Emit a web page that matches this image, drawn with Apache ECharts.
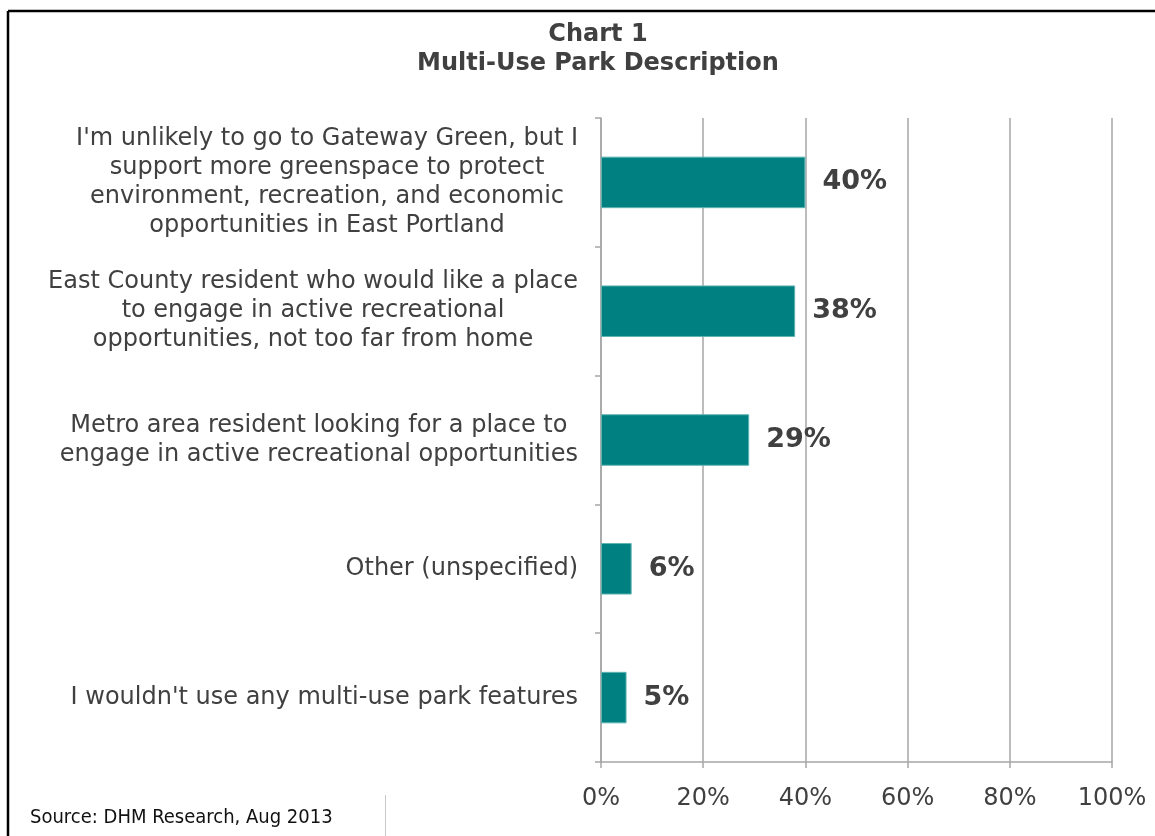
<!DOCTYPE html>
<html>
<head>
<meta charset="utf-8">
<script src="https://cdn.jsdelivr.net/npm/echarts@6/dist/echarts.min.js"></script>
<style>
html,body{margin:0;padding:0;background:#fff;}
#chart{width:1155px;height:836px;}
</style>
</head>
<body>
<div id="chart"></div>
<script>
var titleLines = ['Chart 1', 'Multi-Use Park Description'];
var categories = [
  "I'm unlikely to go to Gateway Green, but I\nsupport more greenspace to protect\nenvironment, recreation, and economic\nopportunities in East Portland",
  "East County resident who would like a place\nto engage in active recreational\nopportunities, not too far from home",
  "Metro area resident looking for a place to\nengage in active recreational opportunities",
  "Other (unspecified)",
  "I wouldn't use any multi-use park features"
];
var values = [40, 38, 29, 6, 5];
var sourceText = 'Source: DHM Research, Aug 2013';

var chart = echarts.init(document.getElementById('chart'));
chart.setOption({
  animation: false,
  backgroundColor: '#fff',
  title: {
    text: titleLines.join('\n'),
    left: 593,
    top: 15,
    textAlign: 'center',
    textStyle: {
      fontFamily: 'DejaVu Sans',
      fontSize: 24,
      fontWeight: 'bold',
      color: '#404040',
      lineHeight: 29
    }
  },
  grid: { left: 601, right: 43, top: 118, bottom: 74, containLabel: false },
  xAxis: {
    type: 'value',
    min: 0,
    max: 100,
    interval: 20,
    axisLine: { show: true, lineStyle: { color: '#a6a6a6', width: 1.5 } },
    axisTick: { show: true, length: 6, lineStyle: { color: '#a6a6a6', width: 1.5 } },
    splitLine: { show: true, lineStyle: { color: '#a6a6a6', width: 1.5 } },
    axisLabel: {
      formatter: '{value}%',
      margin: 25,
      fontFamily: 'DejaVu Sans',
      fontSize: 24,
      color: '#404040'
    }
  },
  yAxis: {
    type: 'category',
    inverse: true,
    data: categories,
    axisLine: { show: true, lineStyle: { color: '#a6a6a6', width: 1.5 } },
    axisTick: { show: true, length: 6, lineStyle: { color: '#a6a6a6', width: 1.5 } },
    axisLabel: {
      margin: 23,
      formatter: function (v) {
        return v.split('\n').map(function (l) { return '{c|' + l + '}'; }).join('\n');
      },
      rich: {
        c: {
          align: 'center',
          fontFamily: 'DejaVu Sans',
          fontSize: 24,
          color: '#404040',
          lineHeight: 29
        }
      }
    }
  },
  series: [{
    type: 'bar',
    data: values,
    barWidth: '40%',
    itemStyle: { color: '#008080', borderColor: '#5fb3b3', borderWidth: 1 },
    label: {
      show: true,
      position: 'right',
      distance: 17,
      formatter: '{c}%',
      fontFamily: 'DejaVu Sans',
      fontSize: 27,
      fontWeight: 'bold',
      color: '#404040'
    }
  }],
  graphic: [
    { type: 'line', shape: { x1: 8, y1: 11, x2: 1155, y2: 11 }, style: { stroke: '#000', lineWidth: 2.5 } },
    { type: 'line', shape: { x1: 8, y1: 11, x2: 8, y2: 836 }, style: { stroke: '#000', lineWidth: 2.5 } },
    { type: 'line', shape: { x1: 385.5, y1: 795, x2: 385.5, y2: 836 }, style: { stroke: '#c8c8c8', lineWidth: 1 } },
    {
      type: 'text', left: 30, top: 808,
      style: { text: sourceText, fontFamily: 'DejaVu Sans Condensed', fontSize: 20, fill: '#111' }
    }
  ]
});
</script>
</body>
</html>
